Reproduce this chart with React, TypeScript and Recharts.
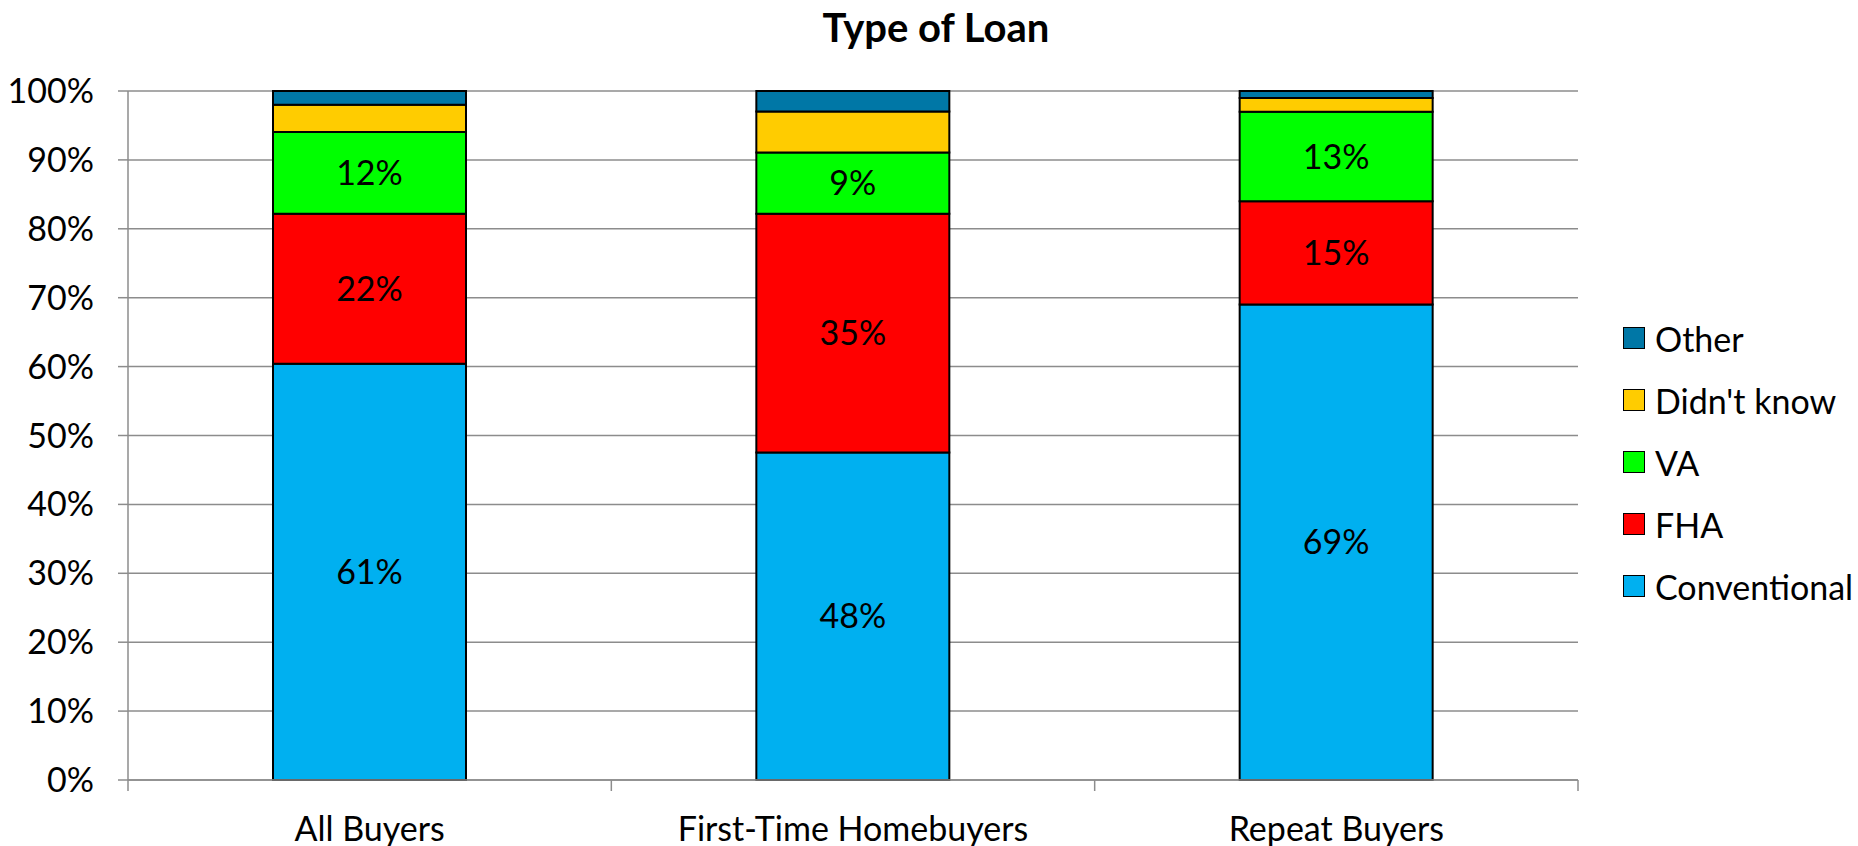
import { BarChart, Bar, XAxis, YAxis, CartesianGrid, LabelList } from "recharts";

const categories = ["All Buyers", "First-Time Homebuyers", "Repeat Buyers"];
const conventional = [61, 48, 69];
const fha = [22, 35, 15];
const va = [12, 9, 13];
const didntKnow = [4, 6, 2];
const other = [2, 3, 1];
const yTicks = [0, 0.1, 0.2, 0.3, 0.4, 0.5, 0.6, 0.7, 0.8, 0.9, 1];

const series = [
  { key: "conventional", name: "Conventional", color: "#00B0F0", label: true },
  { key: "fha", name: "FHA", color: "#FF0000", label: true },
  { key: "va", name: "VA", color: "#00FF00", label: true },
  { key: "didntKnow", name: "Didn't know", color: "#FFCC00", label: false },
  { key: "other", name: "Other", color: "#0077A6", label: false },
];

const data = categories.map((name, i) => ({
  name,
  conventional: conventional[i],
  fha: fha[i],
  va: va[i],
  didntKnow: didntKnow[i],
  other: other[i],
}));

const W = 1858;
const H = 846;
const PLOT_LEFT = 128;
const PLOT_RIGHT = 1578;
const PLOT_TOP = 91;
const PLOT_BOTTOM = 780;
const BAND = (PLOT_RIGHT - PLOT_LEFT) / categories.length;
const FONT = "Lato, 'Open Sans', sans-serif";
const GRID = "#8c8c8c";

function CategoryTick(props: any) {
  const { x, y, payload, index } = props;
  const last = index === categories.length - 1;
  return (
    <g>
      <line x1={x - BAND / 2} y1={y} x2={x - BAND / 2} y2={y + 11} stroke={GRID} strokeWidth={1.5} />
      {last && <line x1={x + BAND / 2} y1={y} x2={x + BAND / 2} y2={y + 11} stroke={GRID} strokeWidth={1.5} />}
      <text x={x} y={y + 47} textAnchor="middle" dominantBaseline="central" fontSize={34} fill="#000" fontFamily={FONT}>
        {payload.value}
      </text>
    </g>
  );
}

// legend drawn outside the svg so it does not eat plot height
function LoanLegend() {
  const items = [...series].reverse();
  return (
    <div style={{ position: "absolute", left: 1623, top: 307, fontFamily: FONT, fontSize: 34, color: "#000" }}>
      {items.map((s) => (
        <div key={s.key} style={{ display: "flex", alignItems: "center", height: 62, whiteSpace: "nowrap" }}>
          <div style={{ width: 20, height: 20, background: s.color, border: "1.5px solid #000", marginRight: 10 }} />
          <span>{s.name}</span>
        </div>
      ))}
    </div>
  );
}

export default function App() {
  return (
    <div style={{ position: "absolute", left: 0, top: 0, width: W, height: H, background: "#fff" }}>
      <div
        style={{
          position: "absolute",
          top: 3,
          left: 0,
          width: 1872,
          textAlign: "center",
          fontFamily: FONT,
          fontWeight: 700,
          fontSize: 40,
          color: "#000",
        }}
      >
        Type of Loan
      </div>
      <BarChart
        width={W}
        height={H}
        data={data}
        stackOffset="expand"
        margin={{ top: PLOT_TOP, right: W - PLOT_RIGHT, bottom: 0, left: 0 }}
      >
        <CartesianGrid vertical={false} stroke={GRID} strokeWidth={1.5} />
        <XAxis
          dataKey="name"
          axisLine={{ stroke: GRID, strokeWidth: 1.5 }}
          tickLine={false}
          tickSize={0}
          tickMargin={0}
          height={H - PLOT_BOTTOM}
          tick={<CategoryTick />}
          interval={0}
        />
        <YAxis
          width={PLOT_LEFT}
          domain={[0, 1]}
          ticks={yTicks}
          interval={0}
          tickFormatter={(v: number) => `${Math.round(v * 100)}%`}
          axisLine={{ stroke: GRID, strokeWidth: 1.5 }}
          tickLine={{ stroke: GRID, strokeWidth: 1.5 }}
          tickSize={10}
          tickMargin={24}
          tick={{ fontSize: 34, fill: "#000", fontFamily: FONT }}
        />
        {series.map((s) => (
          <Bar
            key={s.key}
            dataKey={s.key}
            name={s.name}
            stackId="a"
            fill={s.color}
            stroke="#000"
            strokeWidth={2}
            barSize={193}
            isAnimationActive={false}
          >
            {s.label && (
              <LabelList
                dataKey={s.key}
                position="center"
                formatter={(v: any) => `${v}%`}
                fill="#000"
                fontSize={34}
                fontFamily={FONT}
              />
            )}
          </Bar>
        ))}
      </BarChart>
      <LoanLegend />
    </div>
  );
}
